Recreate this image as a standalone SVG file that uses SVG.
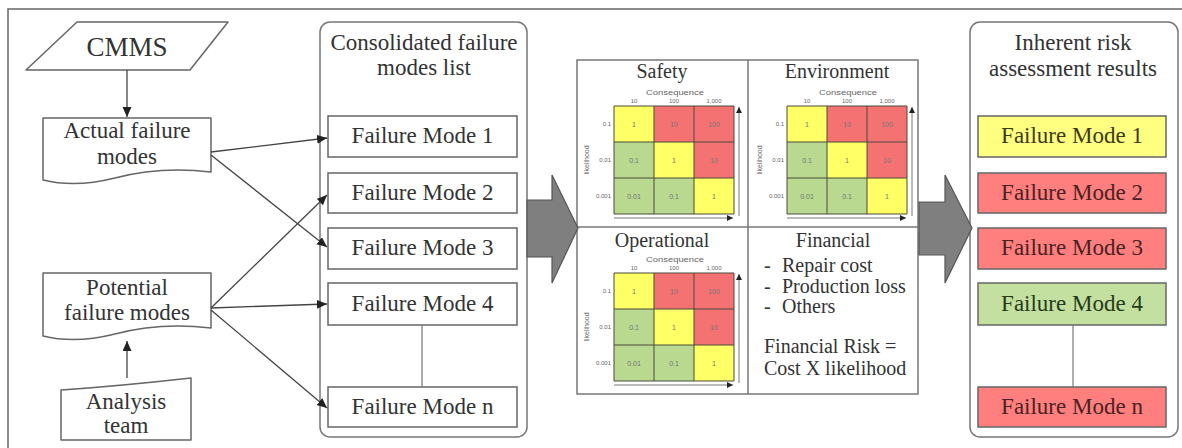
<svg xmlns="http://www.w3.org/2000/svg" xmlns:xlink="http://www.w3.org/1999/xlink" width="1182" height="448" viewBox="0 0 1182 448">
<style>
.t{font-family:Liberation Serif,serif;fill:#333;text-anchor:middle;font-size:23px}
.tl{font-family:Liberation Serif,serif;fill:#333;font-size:20px}
.h{font-family:Liberation Serif,serif;fill:#333;text-anchor:middle;font-size:20px}
.s{font-family:Liberation Sans,sans-serif;fill:#666;font-size:6px;text-anchor:middle}
.sr{font-family:Liberation Sans,sans-serif;fill:#666;font-size:6px;text-anchor:end}
.v{font-family:Liberation Sans,sans-serif;fill:#777;font-size:7px;text-anchor:middle}
.box{fill:#fff;stroke:#666;stroke-width:1.5}
.panel{fill:#fff;stroke:#777;stroke-width:1.5}
.shape{fill:#fff;stroke:#666;stroke-width:1.5;stroke-linejoin:round}
.conn{stroke:#444;stroke-width:1.3;fill:none;marker-end:url(#ah)}
.plain{stroke:#777;stroke-width:1.2;fill:none}
.big{fill:#7f7f7f;stroke:#555;stroke-width:1.2}
.cy{fill:#ffff66}
.cr{fill:#f47272}
.cg{fill:#b8d98f}
.grid{fill:none;stroke:#4a4a3a;stroke-width:1}
.ax{stroke:#777;stroke-width:1;fill:none;marker-end:url(#sah)}
.fy{fill:#ffff80;stroke:#666;stroke-width:1.5}
.fr{fill:#ff7f7f;stroke:#666;stroke-width:1.5}
.fg{fill:#c4e0a0;stroke:#666;stroke-width:1.5}
.ty{fill:#3a3a1a}
.tr{fill:#4a2222}
.tg{fill:#263a1a}
.big7{font-size:7px}
.cm{font-size:27px}
</style>
<defs>
<marker id="ah" markerUnits="userSpaceOnUse" markerWidth="11" markerHeight="10" refX="10" refY="4.5" orient="auto">
<path d="M0,0 L10,4.5 L0,9 Z" fill="#222"/>
</marker>
<marker id="sah" markerUnits="userSpaceOnUse" markerWidth="7" markerHeight="6" refX="6" refY="3" orient="auto">
<path d="M0,0 L6,3 L0,6 Z" fill="#222"/>
</marker>
<g id="mx">
<rect class="cy" x="0" y="0" width="40" height="36"/>
<rect class="cr" x="40" y="0" width="40" height="36"/>
<rect class="cr" x="80" y="0" width="40" height="36"/>
<rect class="cg" x="0" y="36" width="40" height="36"/>
<rect class="cy" x="40" y="36" width="40" height="36"/>
<rect class="cr" x="80" y="36" width="40" height="36"/>
<rect class="cg" x="0" y="72" width="40" height="36"/>
<rect class="cg" x="40" y="72" width="40" height="36"/>
<rect class="cy" x="80" y="72" width="40" height="36"/>
<path class="grid" d="M0,0 H120 V108 H0 Z M40,0 V108 M80,0 V108 M0,36 H120 M0,72 H120"/>
<text class="v" x="20" y="20.5">1</text>
<text class="v" x="60" y="20.5">10</text>
<text class="v" x="100" y="20.5">100</text>
<text class="v" x="20" y="56.5">0.1</text>
<text class="v" x="60" y="56.5">1</text>
<text class="v" x="100" y="56.5">10</text>
<text class="v" x="20" y="92.5">0.01</text>
<text class="v" x="60" y="92.5">0.1</text>
<text class="v" x="100" y="92.5">1</text>
<text class="s big7" x="61" y="-11" textLength="58" lengthAdjust="spacingAndGlyphs">Consequence</text>
<text class="s" x="20" y="-3">10</text>
<text class="s" x="60" y="-3">100</text>
<text class="s" x="100" y="-3">1,000</text>
<text class="sr" x="-3" y="20">0.1</text>
<text class="sr" x="-3" y="56">0.01</text>
<text class="sr" x="-3" y="92">0.001</text>
<text class="s big7" transform="translate(-25,54) rotate(-90)">likelihood</text>
<line class="ax" x1="125" y1="110" x2="125" y2="1"/>
<line class="ax" x1="0" y1="112" x2="119" y2="112"/>
</g>
</defs>
<rect width="1182" height="448" fill="#fff"/>
<path d="M8,448 V9 H1182" fill="none" stroke="#666" stroke-width="1.5"/>

<g id="cmms">
<polygon class="shape" points="77,22 228,22 190,70 26,70"/>
<text class="t cm" x="127" y="56">CMMS</text>
</g>
<g id="actual">
<path class="shape" d="M43,118 H211 V172 Q160,166 115,178 Q75,188 43,180 Z"/>
<text class="t" x="127" y="138">Actual failure</text>
<text class="t" x="127" y="164">modes</text>
</g>
<g id="potential">
<path class="shape" d="M43,273 H211 V328 Q160,322 115,334 Q75,344 43,336 Z"/>
<text class="t" x="127" y="295">Potential</text>
<text class="t" x="127" y="320">failure modes</text>
</g>
<g id="analysis">
<path class="shape" d="M61,390 Q120,386 191,378 V440 H61 Z"/>
<text class="t" x="126" y="409">Analysis</text>
<text class="t" x="126" y="433">team</text>
</g>

<g id="consolidated">
<rect class="panel" x="320" y="22" width="207" height="415" rx="10"/>
<text class="t" x="424" y="50">Consolidated failure</text>
<text class="t" x="424" y="75">modes list</text>
</g>
<g id="fm1"><rect class="box" x="328" y="116" width="189" height="41"/><text class="t" x="422.5" y="143">Failure Mode 1</text></g>
<g id="fm2"><rect class="box" x="328" y="173" width="189" height="40"/><text class="t" x="422.5" y="200">Failure Mode 2</text></g>
<g id="fm3"><rect class="box" x="328" y="228" width="189" height="41"/><text class="t" x="422.5" y="255">Failure Mode 3</text></g>
<g id="fm4"><rect class="box" x="328" y="283" width="189" height="42"/><text class="t" x="422.5" y="311">Failure Mode 4</text></g>
<g id="fmn"><rect class="box" x="328" y="387" width="189" height="40"/><text class="t" x="422.5" y="414">Failure Mode n</text></g>

<g id="risk-panel">
<rect class="panel" x="577" y="60" width="341" height="334"/>
<line x1="748" y1="60" x2="748" y2="394" stroke="#777" stroke-width="1.5"/>
<line x1="577" y1="227" x2="918" y2="227" stroke="#777" stroke-width="1.5"/>
</g>
<g id="safety">
<text class="h" x="662" y="78">Safety</text>
<use xlink:href="#mx" href="#mx" transform="translate(614,106)"/>
</g>
<g id="environment">
<text class="h" x="837" y="78">Environment</text>
<use xlink:href="#mx" href="#mx" transform="translate(787,106)"/>
</g>
<g id="operational">
<text class="h" x="662" y="247">Operational</text>
<use xlink:href="#mx" href="#mx" transform="translate(614,273)"/>
</g>
<g id="financial">
<text class="h" x="833" y="247">Financial</text>
<text class="tl" x="764" y="272">-</text><text class="tl" x="782" y="272">Repair cost</text>
<text class="tl" x="764" y="293">-</text><text class="tl" x="782" y="293">Production loss</text>
<text class="tl" x="764" y="313">-</text><text class="tl" x="782" y="313">Others</text>
<text class="tl" x="764" y="353">Financial Risk =</text>
<text class="tl" x="764" y="375">Cost X likelihood</text>
</g>

<g id="results">
<rect class="panel" x="970" y="22" width="208" height="415" rx="10"/>
<text class="t" x="1073" y="50">Inherent risk</text>
<text class="t" x="1073" y="76">assessment results</text>
</g>
<g id="r1"><rect class="fy" x="978" y="116" width="188" height="41"/><text class="t ty" x="1072" y="143">Failure Mode 1</text></g>
<g id="r2"><rect class="fr" x="978" y="173" width="188" height="40"/><text class="t tr" x="1072" y="200">Failure Mode 2</text></g>
<g id="r3"><rect class="fr" x="978" y="228" width="188" height="41"/><text class="t tr" x="1072" y="255">Failure Mode 3</text></g>
<g id="r4"><rect class="fg" x="978" y="283" width="188" height="42"/><text class="t tg" x="1072" y="311">Failure Mode 4</text></g>
<g id="rn"><rect class="fr" x="978" y="387" width="188" height="40"/><text class="t tr" x="1072" y="414">Failure Mode n</text></g>

<g id="connectors">
<line class="conn" x1="127" y1="70" x2="127" y2="117"/>
<line class="conn" x1="127" y1="378" x2="127" y2="341"/>
<line class="conn" x1="211" y1="152" x2="327" y2="138"/>
<line class="conn" x1="211" y1="155" x2="327" y2="247"/>
<line class="conn" x1="211" y1="308" x2="327" y2="195"/>
<line class="conn" x1="211" y1="308" x2="327" y2="304"/>
<line class="conn" x1="211" y1="310" x2="327" y2="408"/>
<line class="plain" x1="422" y1="325" x2="422" y2="387"/>
<line class="plain" x1="1073" y1="325" x2="1073" y2="387"/>
<polygon class="big" points="527,200 552,200 552,175 578,228 552,283 552,257 527,257"/>
<polygon class="big" points="919,202 945,202 945,175 972,228 945,283 945,255 919,255"/>
</g>
</svg>
